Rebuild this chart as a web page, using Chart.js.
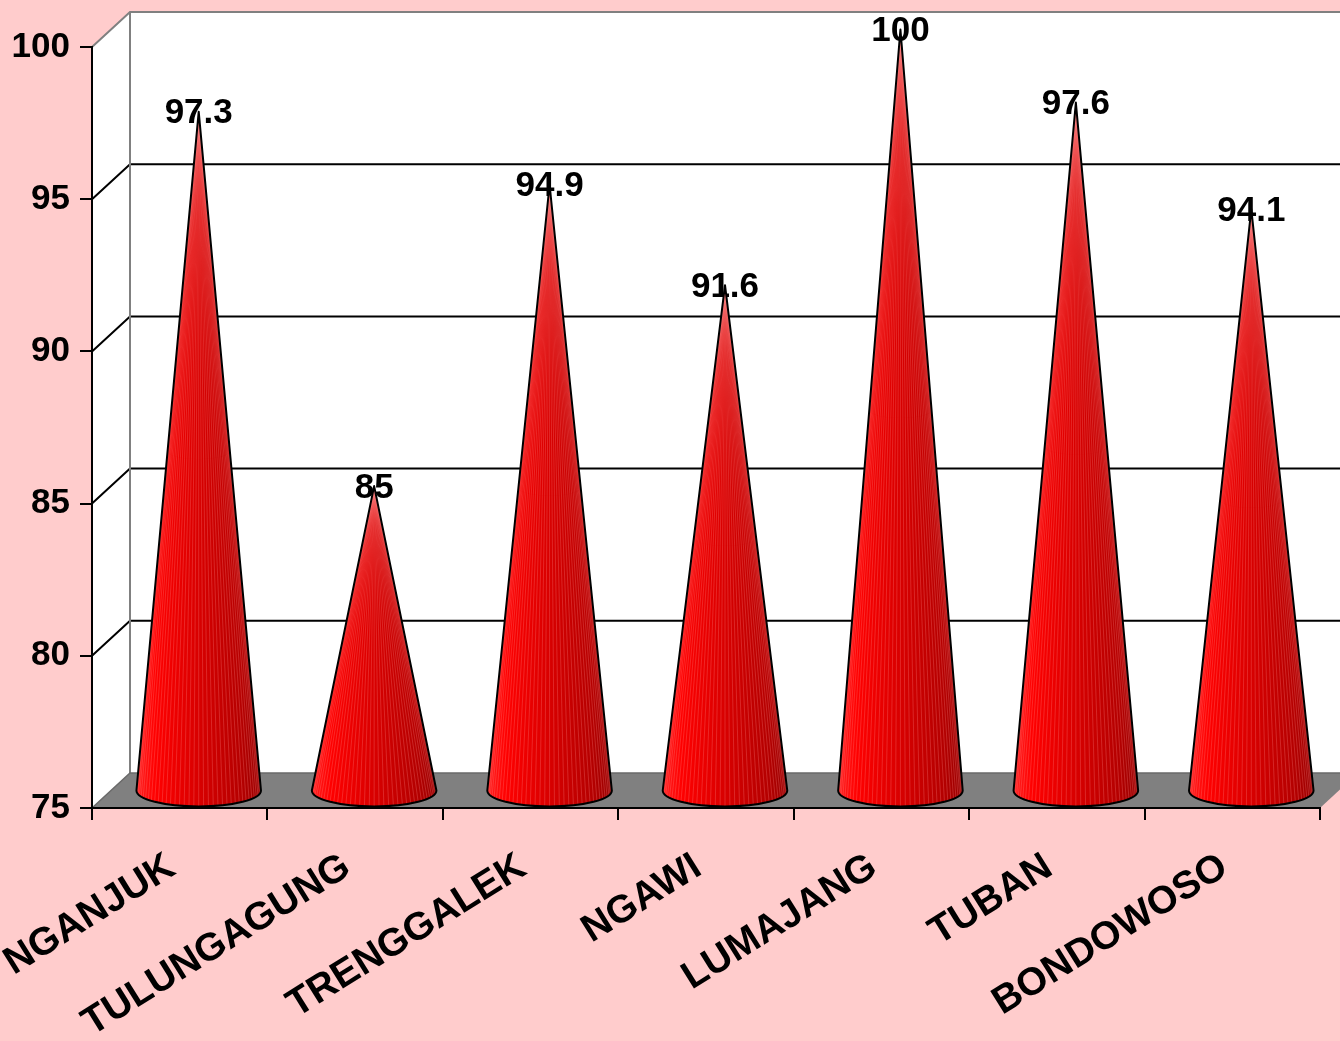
<!DOCTYPE html>
<html>
<head>
<meta charset="utf-8">
<script src="https://cdn.jsdelivr.net/npm/chart.js@4/dist/chart.umd.min.js"></script>
<style>
  html, body { margin: 0; padding: 0; background: #FFCCCC; }
  canvas { display: block; }
</style>
</head>
<body>
<canvas id="chart" width="1340" height="1041"></canvas>
<script>
"use strict";

const categories = ["NGANJUK", "TULUNGAGUNG", "TRENGGALEK", "NGAWI", "LUMAJANG", "TUBAN", "BONDOWOSO"];
const values = [97.3, 85, 94.9, 91.6, 100, 97.6, 94.1];
const yTicks = [75, 80, 85, 90, 95, 100];

// 3d look: back wall offset, cones sit halfway in depth
const depth = { x: 38, y: 35 };

const line = (ctx, pts, color, width) => {
    ctx.beginPath();
    ctx.moveTo(pts[0][0], pts[0][1]);
    pts.slice(1).forEach((p) => ctx.lineTo(p[0], p[1]));
    ctx.strokeStyle = color;
    ctx.lineWidth = width;
    ctx.stroke();
};

const wallsPlugin = {
    id: "walls",
    beforeDraw(chart) {
        const { ctx, chartArea: a, scales: { y } } = chart;
        const bl = a.left + depth.x, bt = a.top - depth.y;
        const br = a.right + depth.x, bb = a.bottom - depth.y;
        ctx.save();
        ctx.fillStyle = "#FFCCCC";
        ctx.fillRect(0, 0, chart.width, chart.height);

        ctx.fillStyle = "#FFFFFF";
        ctx.fillRect(bl, bt, br - bl, bb - bt);
        ctx.beginPath();
        ctx.moveTo(a.left, a.top);
        ctx.lineTo(bl, bt);
        ctx.lineTo(bl, bb);
        ctx.lineTo(a.left, a.bottom);
        ctx.closePath();
        ctx.fill();

        // floor
        ctx.beginPath();
        ctx.moveTo(a.left, a.bottom);
        ctx.lineTo(bl, bb);
        ctx.lineTo(br, bb);
        ctx.lineTo(a.right, a.bottom);
        ctx.closePath();
        ctx.fillStyle = "#808080";
        ctx.fill();

        yTicks.forEach((v) => {
            if (v === yTicks[0]) return;
            const yf = y.getPixelForValue(v);
            const yb = yf - depth.y;
            const color = v === yTicks[yTicks.length - 1] ? "#808080" : "#000000";
            line(ctx, [[a.left, yf], [bl, yb], [br, yb]], color, 2);
        });
        line(ctx, [[bl, bt], [bl, bb]], "#808080", 2);
        line(ctx, [[a.left, a.bottom], [bl, bb], [br, bb]], "#6a6a6a", 1.5);
        ctx.restore();
    },
    afterDatasetsDraw(chart) {
        const { ctx, scales: { y } } = chart;
        const meta = chart.getDatasetMeta(0);
        const floorY = y.getPixelForValue(y.min);
        ctx.save();
        // value labels
        ctx.font = "bold 35px 'Liberation Sans', Arial, sans-serif";
        ctx.fillStyle = "#000000";
        ctx.textAlign = "center";
        ctx.textBaseline = "middle";
        meta.data.forEach((bar, i) => {
            ctx.fillText(String(values[i]), bar.x + depth.x / 2, bar.y - depth.y / 2 + 2);
        });

        meta.data.forEach((bar) => {
            const cx = bar.x + depth.x / 2;
            const cy = floorY - depth.y / 2;
            const ax = cx, ay = bar.y - depth.y / 2;
            const rx = bar.width / 2, ry = 16;

            const outline = () => {
                ctx.beginPath();
                ctx.moveTo(cx - rx, cy);
                ctx.lineTo(ax, ay);
                ctx.lineTo(cx + rx, cy);
                ctx.ellipse(cx, cy, rx, ry, 0, 0, Math.PI);
                ctx.closePath();
            };

            const grad = ctx.createLinearGradient(cx - rx, 0, cx + rx, 0);
            grad.addColorStop(0, "#FF2020");
            grad.addColorStop(0.15, "#FF0000");
            grad.addColorStop(0.5, "#D80000");
            grad.addColorStop(0.85, "#B40000");
            grad.addColorStop(1, "#960000");
            outline();
            ctx.fillStyle = grad;
            ctx.fill();

            // faint vertical stripes
            ctx.save();
            outline();
            ctx.clip();
            ctx.strokeStyle = "rgba(255,140,140,0.28)";
            ctx.lineWidth = 1;
            for (let k = 1; k < 40; k++) {
                const t = Math.PI * k / 40;
                ctx.beginPath();
                ctx.moveTo(ax, ay);
                ctx.lineTo(cx + rx * Math.cos(t), cy + ry * Math.sin(t));
                ctx.stroke();
            }
            ctx.restore();

            outline();
            ctx.strokeStyle = "#000000";
            ctx.lineWidth = 2;
            ctx.lineJoin = "round";
            ctx.stroke();
        });
        ctx.restore();
    }
};

const ctx = document.getElementById("chart").getContext("2d");
new Chart(ctx, {
    type: "bar",
    data: {
        labels: categories,
        datasets: [{
            data: values,
            backgroundColor: "rgba(0,0,0,0)",
            borderWidth: 0,
            barPercentage: 0.71,
            categoryPercentage: 1
        }]
    },
    options: {
        responsive: false,
        animation: false,
        devicePixelRatio: 1,
        layout: { padding: { top: 47, right: 20, left: 0, bottom: 0 } },
        plugins: {
            legend: { display: false },
            tooltip: { enabled: false }
        },
        scales: {
            x: {
                afterFit: (scale) => {
                    scale.height = 233;
                    scale.paddingLeft = 0;
                    scale.paddingRight = 0;
                },
                grid: {
                    offset: true,
                    drawOnChartArea: false,
                    drawTicks: true,
                    tickLength: 12,
                    color: "#000000",
                    lineWidth: 2
                },
                border: { display: true, color: "#000000", width: 2 },
                ticks: {
                    minRotation: 32,
                    maxRotation: 32,
                    autoSkip: false,
                    padding: 24,
                    labelOffset: -8,
                    color: "#000000",
                    font: { family: "'Liberation Sans', Arial, sans-serif", size: 39, weight: "bold" }
                }
            },
            y: {
                min: yTicks[0],
                max: yTicks[yTicks.length - 1],
                afterFit: (scale) => { scale.width = 92; },
                afterBuildTicks: (scale) => { scale.ticks = yTicks.map((v) => ({ value: v })); },
                grid: {
                    drawOnChartArea: false,
                    drawTicks: true,
                    tickLength: 12,
                    color: "#000000",
                    lineWidth: 2
                },
                border: { display: true, color: "#000000", width: 2 },
                ticks: {
                    padding: 10,
                    color: "#000000",
                    font: { family: "'Liberation Sans', Arial, sans-serif", size: 35, weight: "bold" }
                }
            }
        }
    },
    plugins: [wallsPlugin]
});
</script>
</body>
</html>
